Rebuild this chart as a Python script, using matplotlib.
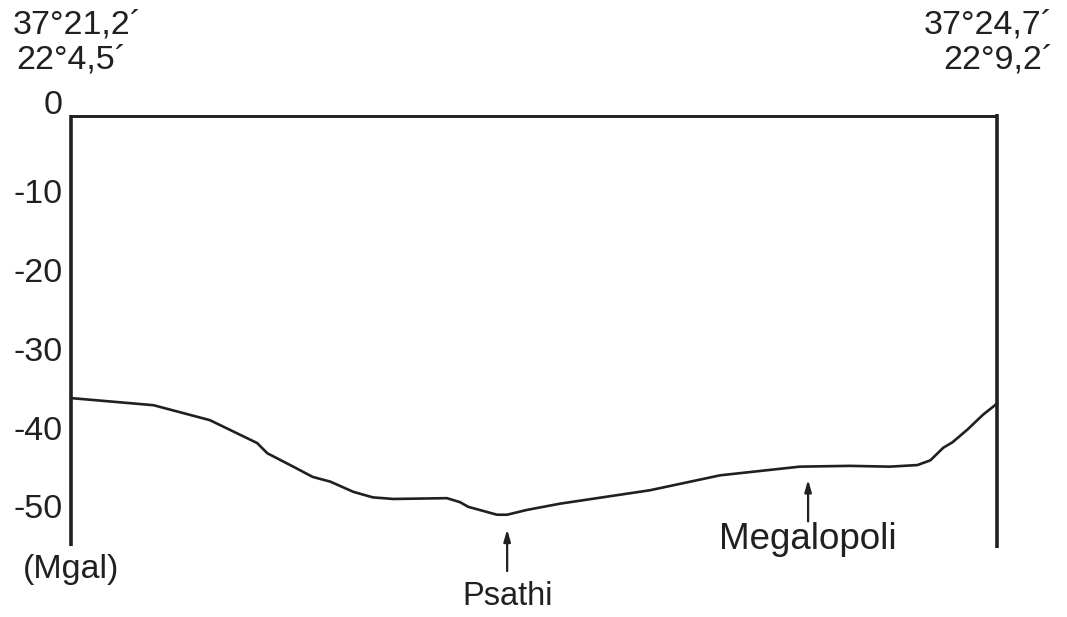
import matplotlib.pyplot as plt

# Gravity profile (Mgal) along the section, distance as % of profile length
dist = [0, 8.9, 15.0, 20.1, 21.2, 24.0, 26.1, 28.0, 30.5, 32.6, 34.8, 40.6, 42.0,
        42.9, 46.0, 47.1, 49.2, 51.0, 52.8, 62.5, 70.1, 78.7, 84.1, 88.4, 91.4,
        92.8, 94.2, 95.2, 96.8, 98.5, 100]
grav = [-35.8, -36.7, -38.6, -41.5, -42.8, -44.5, -45.8, -46.4, -47.7, -48.4, -48.6,
        -48.5, -49.0, -49.6, -50.6, -50.6, -50.0, -49.6, -49.2, -47.5, -45.6, -44.5,
        -44.4, -44.5, -44.3, -43.7, -42.1, -41.4, -39.8, -37.9, -36.5]

y_ticks = [0, -10, -20, -30, -40, -50]
y_labels = ["0", "-10", "-20", "-30", "-40", "-50"]

places = ["Psathi", "Megalopoli"]
place_x = [47.1, 79.6]
place_y = [-50.9, -44.6]

coord_left = ["37°21,2´", "22°4,5´"]
coord_right = ["37°24,7´", "22°9,2´"]

ink = "#231f20"
plt.rcParams['font.family'] = ['Liberation Sans', 'DejaVu Sans']

fig = plt.figure(figsize=(10.67, 6.17), dpi=100)
ax = fig.add_axes([0, 0, 1, 1])
ax.set_xlim(-7.667, 107.56)
ax.set_ylim(-63.58, 14.72)
ax.axis("off")

# frame: top line and two verticals
ax.plot([0, 100], [0, 0], color=ink, lw=2.1, solid_capstyle="butt")
ax.plot([0, 0], [0.15, -54.6], color=ink, lw=2.6, solid_capstyle="butt")
ax.plot([100, 100], [0.3, -54.8], color=ink, lw=2.6, solid_capstyle="butt")

# profile
ax.plot(dist, grav, color=ink, lw=1.9)

fs = 24.5
for v, lab in zip(y_ticks, y_labels):
    yy = 1.3 if v == 0 else v
    ax.text(-0.86, yy, lab, ha="right", va="center", fontsize=fs, color=ink)
ax.text(0, -57.6, "(Mgal)", ha="center", va="center", fontsize=fs, color=ink)

# arrows and place names
for name, x, y in zip(places, place_x, place_y):
    ax.annotate("", xy=(x, y - 1.2), xytext=(x, y - 7.2),
                arrowprops=dict(arrowstyle="-|>,head_length=0.7,head_width=0.2",
                                color=ink, lw=1.6))
ax.text(place_x[0], -61.0, places[0], ha="center", va="center", fontsize=23.5, color=ink)
ax.text(place_x[1], -53.8, places[1], ha="center", va="center", fontsize=26.5, color=ink)

# coordinates of profile ends
ax.text(-6.26, 11.55, coord_left[0], ha="left", va="center", fontsize=fs, color=ink)
ax.text(-5.94, 7.1, coord_left[1], ha="left", va="center", fontsize=fs, color=ink)
ax.text(106.05, 11.55, coord_right[0], ha="right", va="center", fontsize=fs, color=ink)
ax.text(106.05, 7.1, coord_right[1], ha="right", va="center", fontsize=fs, color=ink)

fig.savefig("out.png", dpi=100)
